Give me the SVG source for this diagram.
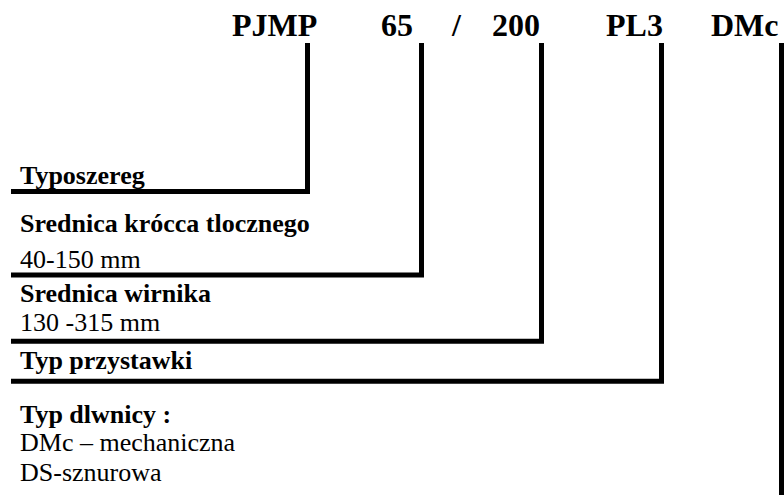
<svg xmlns="http://www.w3.org/2000/svg" width="784" height="495" viewBox="0 0 784 495">
<style>
text{font-family:'Liberation Serif','Times New Roman',serif;fill:#000}
.code{font-size:32px;font-weight:bold}
.b{font-size:26px;font-weight:bold}
.r{font-size:26px}
.con{fill:none;stroke:#000;stroke-width:5;stroke-linecap:butt;stroke-linejoin:miter}
</style>
<rect width="784" height="495" fill="#fff"/>
<g id="title">
<text class="code" x="232" y="36">PJMP</text>
<text class="code" x="381" y="36">65</text>
<text class="code" x="452" y="36">/</text>
<text class="code" x="492" y="36">200</text>
<text class="code" x="606" y="36">PL3</text>
<text class="code" x="711" y="36">DMc</text>
</g>
<g id="connectors">
<path class="con" d="M307.5,43 V191.5 H11"/>
<path class="con" d="M421.5,43 V275 H11"/>
<path class="con" d="M541.5,43 V341.3 H11"/>
<path class="con" d="M661.5,43 V381.2 H11"/>
<path class="con" d="M781.5,43 V495"/>
</g>
<g id="typoszereg">
<text class="b" x="20" y="184">Typoszereg</text>
</g>
<g id="srednica-krocca">
<text class="b" x="20" y="232">Srednica krócca tlocznego</text>
<text class="r" x="20" y="268">40-150 mm</text>
</g>
<g id="srednica-wirnika">
<text class="b" x="20" y="302">Srednica wirnika</text>
<text class="r" x="20" y="331">130 -315 mm</text>
</g>
<g id="typ-przystawki">
<text class="b" x="20" y="369">Typ przystawki</text>
</g>
<g id="typ-dlawnicy">
<text class="b" x="20" y="423">Typ dlwnicy :</text>
<text class="r" x="20" y="451">DMc – mechaniczna</text>
<text class="r" x="20" y="481">DS-sznurowa</text>
</g>
</svg>
